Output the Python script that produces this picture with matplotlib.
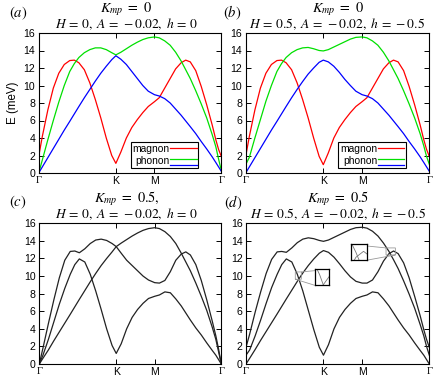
import matplotlib
matplotlib.use("Agg")
import matplotlib.pyplot as plt
from matplotlib.legend_handler import HandlerBase
from matplotlib.lines import Line2D

plt.rcParams['font.family'] = 'Liberation Sans'
plt.rcParams['mathtext.fontset'] = 'stix'

# path coordinate along Gamma-K-M-Gamma (K at 0.4226, M at 0.634)
kpath = [0, .02, .05, .08, .11, .14, .17, .195, .22, .25, .28, .31, .34, .37, .40, .4226,
         .45, .48, .51, .54, .57, .60, .634, .66, .69, .72, .75, .78, .805, .83, .86, .89,
         .92, .95, .97, .985, 1.0]
k_ticks = [0, 0.4226, 0.634, 1.0]
k_labels = ['Γ', 'K', 'M', 'Γ']

# (a) Kmp = 0, H = 0
a_magnon = [1.9, 4.2, 7.2, 9.7, 11.4, 12.4, 12.85, 12.9, 12.6, 11.8, 10.3, 8.4, 6.3, 4.0, 2.0, 1.1,
            2.4, 4.0, 5.2, 6.1, 6.9, 7.6, 8.15, 8.6, 9.7, 10.8, 11.9, 12.6, 12.9, 12.7, 11.7, 9.9,
            7.8, 5.5, 3.8, 2.7, 1.9]
a_phonon1 = [0, 1.5, 3.8, 6.0, 8.1, 10.0, 11.6, 12.5, 13.2, 13.75, 14.1, 14.3, 14.3, 14.1, 13.75, 13.5,
             13.8, 14.2, 14.6, 14.95, 15.25, 15.45, 15.55, 15.45, 15.1, 14.6, 13.8, 12.8, 11.8, 10.8, 9.4, 7.9,
             6.3, 4.4, 3.0, 1.6, 0.3]
a_phonon2 = [0, 0.7, 1.75, 2.8, 3.85, 4.9, 5.9, 6.75, 7.6, 8.6, 9.55, 10.5, 11.4, 12.2, 12.95, 13.4,
             13.0, 12.4, 11.6, 10.8, 10.0, 9.35, 8.95, 8.8, 8.5, 8.0, 7.3, 6.6, 5.95, 5.3, 4.5, 3.6,
             2.75, 1.85, 1.2, 0.7, 0.2]

# (b) Kmp = 0, H = 0.5
b_magnon = [1.9, 4.2, 7.2, 9.7, 11.4, 12.4, 12.85, 12.9, 12.6, 11.8, 10.3, 8.4, 6.3, 4.0, 1.9, 0.95,
            2.3, 4.0, 5.2, 6.1, 6.9, 7.6, 8.15, 8.6, 9.7, 10.8, 11.9, 12.6, 12.9, 12.7, 11.7, 9.9,
            7.8, 5.5, 3.8, 2.7, 1.9]
b_phonon1 = [0.95, 1.8, 4.0, 6.1, 8.2, 10.0, 11.6, 12.5, 13.2, 13.75, 14.1, 14.3, 14.35, 14.2, 14.0, 13.95,
             14.1, 14.4, 14.7, 15.0, 15.3, 15.5, 15.55, 15.45, 15.1, 14.6, 13.8, 12.8, 11.8, 10.8, 9.4, 7.9,
             6.3, 4.5, 3.1, 1.9, 1.0]
b_phonon2 = [0, 0.7, 1.75, 2.8, 3.85, 4.9, 5.9, 6.75, 7.6, 8.6, 9.55, 10.45, 11.3, 12.0, 12.65, 12.9,
             12.7, 12.2, 11.5, 10.7, 10.0, 9.35, 8.95, 8.8, 8.5, 8.0, 7.3, 6.6, 5.95, 5.3, 4.5, 3.6,
             2.75, 1.85, 1.2, 0.7, 0.2]

# (c) Kmp = 0.5, H = 0
c_band1 = [0, 1.8, 4.6, 7.3, 9.8, 11.8, 12.8, 12.85, 12.65, 13.1, 13.7, 14.1, 14.2, 14.05, 13.7, 13.35,
           12.6, 11.8, 11.2, 10.6, 10.0, 9.55, 9.25, 9.2, 9.5, 10.5, 11.8, 12.5, 12.75, 12.4, 11.3, 9.5,
           7.3, 4.9, 3.2, 1.7, 0]
c_band2 = [0, 1.0, 2.8, 4.8, 6.8, 8.6, 10.2, 11.3, 11.95, 11.6, 10.2, 8.3, 6.2, 4.0, 2.1, 1.2,
           2.3, 4.0, 5.3, 6.2, 6.9, 7.45, 7.7, 7.85, 8.2, 8.1, 7.4, 6.6, 5.8, 5.0, 4.1, 3.3,
           2.4, 1.55, 1.0, 0.5, 0]
c_band3 = [0, 0.65, 1.6, 2.65, 3.65, 4.65, 5.65, 6.5, 7.35, 8.35, 9.35, 10.3, 11.2, 12.0, 12.75, 13.35,
           13.75, 14.15, 14.55, 14.9, 15.2, 15.4, 15.5, 15.4, 15.05, 14.5, 13.7, 12.6, 11.6, 10.6, 9.2, 7.7,
           6.1, 4.2, 2.8, 1.4, 0]

# (d) Kmp = 0.5, H = 0.5
d_band1 = [1.9, 3.4, 5.9, 8.2, 10.3, 11.9, 12.75, 12.8, 12.7, 13.2, 13.8, 14.2, 14.35, 14.25, 14.05, 13.95,
           14.1, 14.4, 14.7, 15.0, 15.3, 15.5, 15.55, 15.45, 15.1, 14.55, 13.75, 12.8, 11.85, 10.85, 9.45, 7.95,
           6.35, 4.5, 3.2, 2.0, 1.0]
d_band2 = [0, 0.65, 1.65, 2.7, 3.7, 4.7, 5.7, 6.55, 7.4, 8.4, 9.4, 10.35, 11.2, 11.95, 12.6, 12.9,
           12.7, 12.15, 11.4, 10.6, 9.9, 9.4, 9.2, 9.2, 9.55, 10.5, 11.7, 12.55, 12.85, 12.55, 11.5, 9.8,
           7.7, 5.5, 3.9, 2.8, 1.9]
d_band3 = [1.0, 1.6, 3.2, 5.0, 6.9, 8.7, 10.2, 11.3, 11.95, 11.6, 10.2, 8.3, 6.1, 3.9, 1.9, 1.0,
           2.2, 4.0, 5.3, 6.2, 6.9, 7.45, 7.7, 7.85, 8.2, 8.1, 7.4, 6.6, 5.8, 5.0, 4.1, 3.3,
           2.4, 1.55, 1.0, 0.5, 0]

title_top = [r'$K_{mp}\ =\ 0$', r'$K_{mp}\ =\ 0$', r'$K_{mp}\ =\ 0.5,$', r'$K_{mp}\ =\ 0.5$']
title_bottom = [r'$H\, =\, 0,\ A\, =\, -0.02,\ h\, =\, 0$', r'$H\, =\, 0.5,\ A\, =\, -0.02,\ h\, =\, -0.5$',
                r'$H\, =\, 0,\ A\, =\, -0.02,\ h\, =\, 0$', r'$H\, =\, 0.5,\ A\, =\, -0.02,\ h\, =\, -0.5$']
panel_tags = ['(a)', '(b)', '(c)', '(d)']


class HandlerTwoLines(HandlerBase):
    # phonon entry: green and blue sample lines stacked
    def create_artists(self, legend, orig_handle, xdescent, ydescent, width, height, fontsize, trans):
        l1, l2 = orig_handle
        y0 = height / 2 - ydescent
        a = Line2D([-xdescent, width - xdescent], [y0 + 1.0, y0 + 1.0], color=l1.get_color(), lw=0.9, transform=trans)
        b = Line2D([-xdescent, width - xdescent], [y0 - 3.0, y0 - 3.0], color=l2.get_color(), lw=0.9, transform=trans)
        return [a, b]


fig = plt.figure(figsize=(4.36, 3.80), dpi=100)
W, H = 436.0, 380.0
rects = [(38.7, 33, 182.6, 140), (245.7, 33, 183.6, 140),
         (39.3, 223.3, 182, 140.7), (246, 223.3, 183.3, 140.7)]
axes = []
for (x, y, w, h) in rects:
    axes.append(fig.add_axes([x / W, 1 - (y + h) / H, w / W, h / H]))

lw = 0.9
for i, ax in enumerate(axes):
    if i < 2:
        mag = [a_magnon, b_magnon][i]
        ph1 = [a_phonon1, b_phonon1][i]
        ph2 = [a_phonon2, b_phonon2][i]
        lm, = ax.plot(kpath, mag, color='#ff0000', lw=lw)
        lp1, = ax.plot(kpath, ph1, color='#00e000', lw=lw)
        lp2, = ax.plot(kpath, ph2, color='#0000ff', lw=lw)
        leg = ax.legend([lm, (lp1, lp2)], ['magnon', 'phonon'],
                        handler_map={tuple: HandlerTwoLines()},
                        loc='lower left', bbox_to_anchor=(0.505, 0.036),
                        fontsize=7.4, markerfirst=False, handlelength=2.6, handletextpad=0.05,
                        borderpad=0.15, labelspacing=0.25, borderaxespad=0,
                        fancybox=False, framealpha=1, edgecolor='black')
        leg.get_frame().set_linewidth(0.8)
    else:
        bands = [[c_band1, c_band2, c_band3], [d_band1, d_band2, d_band3]][i - 2]
        for b in bands:
            ax.plot(kpath, b, color='#222222', lw=lw)

    ax.set_xlim(0, 1)
    ax.set_ylim(0, 16)
    ax.set_yticks(range(0, 17, 2))
    ax.set_xticks(k_ticks)
    ax.set_xticklabels(k_labels)
    for t in ax.get_xticklabels():
        if t.get_text() == 'Γ':
            t.set_family('Liberation Serif')
            t.set_fontsize(8.5)
    ax.tick_params(direction='in', top=True, right=True, length=3.5, width=0.7,
                   labelsize=7.6, pad=2.5)
    for s in ax.spines.values():
        s.set_linewidth(0.8)
    xc = 0.48 if i % 2 == 0 else 0.5
    ax.text(xc, 1.152, title_top[i], transform=ax.transAxes, fontsize=10.3,
            ha='center', va='baseline')
    ax.text(xc, 1.034, title_bottom[i], transform=ax.transAxes, fontsize=9.7,
            ha='center', va='baseline')

axes[0].set_ylabel('E (meV)', fontsize=8.3, labelpad=3)

# zoom insets on (d)
axd = axes[3]
inset_boxes = [(0.375, 8.95, 0.079, 1.82), (0.573, 11.8, 0.085, 1.8)]
zoom_windows = [(0.269, 0.302, 9.64, 10.47), (0.764, 0.815, 12.4, 13.2)]
for (bx, by, bw, bh), (x1, x2, y1, y2) in zip(inset_boxes, zoom_windows):
    axins = axd.inset_axes([bx, by, bw, bh], transform=axd.transData)
    for b in [d_band1, d_band2, d_band3]:
        axins.plot(kpath, b, color='#777777', lw=0.6)
    axins.set_xlim(x1, x2)
    axins.set_ylim(y1, y2)
    axins.set_xticks([])
    axins.set_yticks([])
    for s in axins.spines.values():
        s.set_linewidth(0.9)
    axd.indicate_inset_zoom(axins, edgecolor='#999999', linewidth=0.6, alpha=1)

for i, tag in enumerate(panel_tags):
    pos = [(18, 13), (232, 13), (18, 202), (233, 203)][i]
    fig.text(pos[0] / W, 1 - pos[1] / H, '$' + tag + '$', fontsize=10.5, ha='center', va='center')

fig.savefig('out.png', dpi=100)
